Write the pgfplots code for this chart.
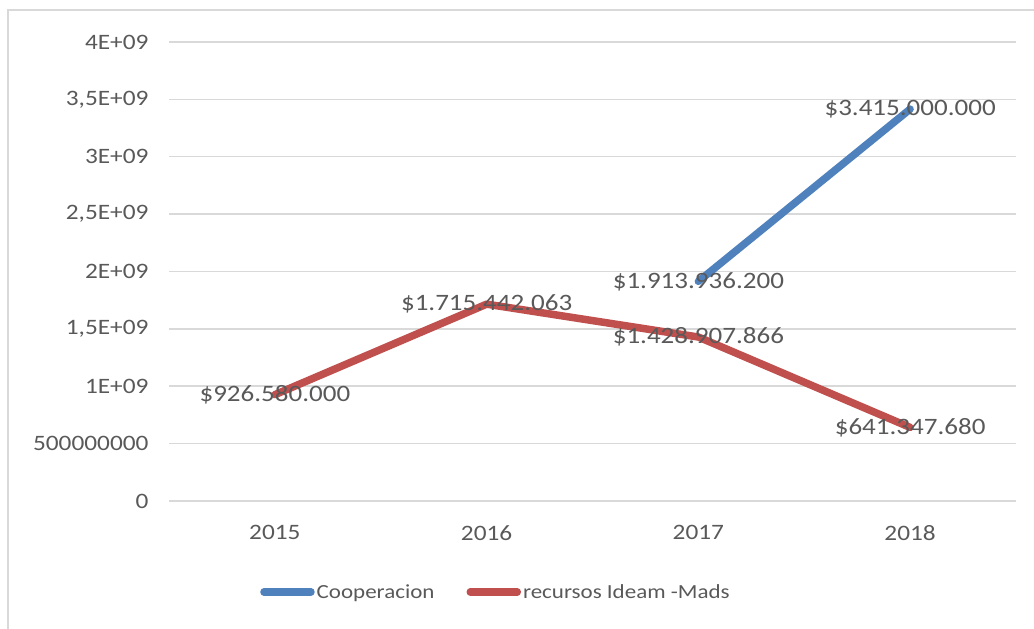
\documentclass[border=0pt]{standalone}
\usepackage{pgfplots}
\pgfplotsset{compat=1.18}
\usepackage{fontspec}
\setmainfont{Carlito}[FakeStretch=1.15]
\definecolor{coopblue}{HTML}{4F81BD}
\definecolor{mdsred}{HTML}{C0504D}
\definecolor{txtgray}{HTML}{595959}
\definecolor{gridgray}{HTML}{D9D9D9}
\begin{document}
\begin{tikzpicture}
\path[use as bounding box] (0,0) rectangle (1034bp,629bp);
\draw[gridgray, line width=2bp] (1034bp,619bp) -- (8bp,619bp) -- (8bp,0bp);
\begin{axis}[
  at={(169bp,128bp)}, anchor=south west,
  scale only axis, width=847bp, height=459bp,
  xmin=-0.5, xmax=3.5, ymin=0, ymax=4e9,
  xtick={0,1,2,3}, xticklabels={2015,2016,2017,2018},
  ytick={0,5e8,1e9,1.5e9,2e9,2.5e9,3e9,3.5e9,4e9},
  yticklabels={0,500000000,1E+09,{1,5E+09},2E+09,{2,5E+09},3E+09,{3,5E+09},4E+09},
  scaled y ticks=false,
  axis line style={draw=none},
  major tick length=0pt,
  ymajorgrids, grid style={gridgray, line width=1.5bp},
  tick label style={font=\fontsize{22bp}{26bp}\selectfont, text=txtgray},
  xticklabel style={yshift=-21bp},
  yticklabel style={xshift=-17bp},
  /pgf/number format/assume math mode=true,
  clip=false,
  legend columns=2,
  legend style={at={(0.386,-0.198)}, anchor=center, draw=none, fill=none,
    font=\fontsize{20bp}{24bp}\selectfont, text=txtgray,
    /tikz/every even column/.append style={column sep=30bp},
    inner sep=0pt},
  legend image code/.code={\draw[#1, line cap=round] (3bp,0bp) -- (50bp,0bp);},
  nodes near coords,
  point meta=explicit symbolic,
  every node near coord/.append style={anchor=center, font=\fontsize{23.5bp}{28bp}\selectfont, text=txtgray},
]
\addplot[coopblue, line width=7.5bp, line cap=round, line join=round] table[meta=lab] {
x y lab
2 1913936200 \$1.913.936.200
3 3415000000 \$3.415.000.000
};
\addlegendentry{Cooperacion}
\addplot[mdsred, line width=7.5bp, line cap=round, line join=round] table[meta=lab] {
x y lab
0 926580000 \$926.580.000
1 1715442063 \$1.715.442.063
2 1428907866 \$1.428.907.866
3 641347680 \$641.347.680
};
\addlegendentry{recursos Ideam -Mads}
\end{axis}
\end{tikzpicture}
\end{document}
